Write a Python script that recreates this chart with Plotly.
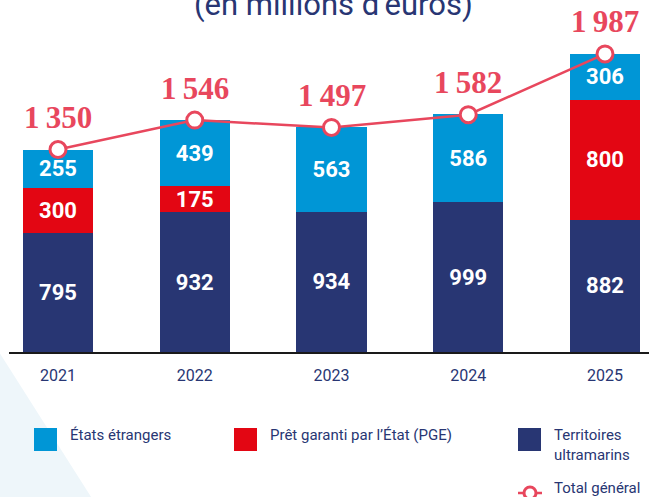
import plotly.graph_objects as go

years = ["2021", "2022", "2023", "2024", "2025"]
territoires = [795, 932, 934, 999, 882]
pge = [300, 175, None, None, 800]
etats = [255, 439, 563, 586, 306]
totaux = [1350, 1546, 1497, 1582, 1987]

NAVY = "#283673"
RED = "#e30613"
BLUE = "#0096d6"
PINK = "#e8475d"

W, H = 649, 497
L, R, T, B = 9, 0, 0, 145
PW, PH = W - L - R, H - T - B


def px_x(px):
    return (px - L) / PW


def px_y(py):
    return 1 - (py - T) / PH


xs = list(range(len(years)))
fig = go.Figure()

bar_common = dict(
    x=xs, width=0.512, texttemplate="%{y}", textposition="inside",
    insidetextanchor="middle", textangle=0, constraintext="none",
    textfont=dict(family="Roboto", size=22, color="white", weight="bold"),
    marker_line_width=0, showlegend=False,
)
fig.add_trace(go.Bar(y=territoires, name="Territoires ultramarins", marker_color=NAVY, **bar_common))
fig.add_trace(go.Bar(y=pge, name="Prêt garanti par l’État (PGE)", marker_color=RED, **bar_common))
fig.add_trace(go.Bar(y=etats, name="États étrangers", marker_color=BLUE, **bar_common))

fig.add_trace(go.Scatter(
    x=xs, y=totaux, mode="lines+markers", name="Total général",
    line=dict(color=PINK, width=2.5),
    marker=dict(size=16, color="white", line=dict(color=PINK, width=3)),
    cliponaxis=False, showlegend=False,
))

annotations = []
for i, v in enumerate(totaux):
    s = f"{v:,}".replace(",", "\u2009")
    annotations.append(dict(
        x=i, y=v, xref="x", yref="y", text=s, showarrow=False,
        yanchor="middle", yshift=32,
        font=dict(family="Liberation Serif", size=31, color=PINK, weight="bold"),
    ))

# title (partially cut at top)
annotations.append(dict(
    x=px_x(333), y=px_y(5), xref="paper", yref="paper",
    text="(en millions d’euros)", showarrow=False, yanchor="middle",
    font=dict(family="Roboto", size=31, color=NAVY),
))

legend_font = dict(family="Roboto", size=15, color=NAVY)
shapes = [
    dict(type="path", xref="paper", yref="paper", layer="below",
         path=f"M {px_x(-20)},{px_y(322)} L {px_x(93)},{px_y(500)} L {px_x(-20)},{px_y(500)} Z",
         fillcolor="#eef6fa", line=dict(width=0)),
]
for (x0, col, txt, ty) in [(34, BLUE, "États étrangers", 435),
                           (234, RED, "Prêt garanti par l’État (PGE)", 435),
                           (518, NAVY, "Territoires<br>ultramarins", 445)]:
    shapes.append(dict(type="rect", xref="paper", yref="paper",
                       x0=px_x(x0), x1=px_x(x0 + 23), y0=px_y(428), y1=px_y(451),
                       fillcolor=col, line=dict(width=0)))
    annotations.append(dict(x=px_x(x0 + 34), y=px_y(ty), xref="paper", yref="paper",
                            text=txt, showarrow=False, xanchor="left", yanchor="middle",
                            align="left", font=legend_font))

# Total général legend symbol
shapes.append(dict(type="line", xref="paper", yref="paper",
                   x0=px_x(518), x1=px_x(542), y0=px_y(493), y1=px_y(493),
                   line=dict(color=PINK, width=2.5)))
shapes.append(dict(type="circle", xref="paper", yref="paper",
                   x0=px_x(524), x1=px_x(536), y0=px_y(487), y1=px_y(499),
                   fillcolor="white", line=dict(color=PINK, width=3)))
annotations.append(dict(x=px_x(552), y=px_y(488), xref="paper", yref="paper",
                        text="Total général", showarrow=False, xanchor="left",
                        yanchor="middle", font=legend_font))

fig.update_layout(
    width=W, height=H, margin=dict(l=L, r=R, t=T, b=B, pad=0),
    barmode="stack", plot_bgcolor="white", paper_bgcolor="white",
    showlegend=False, annotations=annotations, shapes=shapes,
    xaxis=dict(range=[-49 / 136.75, (PW - 49) / 136.75], tickvals=xs, ticktext=years,
               showgrid=False, zeroline=False, showline=True, linecolor="#1a1a1a",
               linewidth=1.5, ticks="", ticklabelstandoff=8,
               tickfont=dict(family="Roboto", size=16, color=NAVY)),
    yaxis=dict(range=[0, PH / 0.15], visible=False, showgrid=False, zeroline=False),
)

fig.write_html(
    "out.html",
    config={"displayModeBar": False},
    post_script="document.body.style.margin='0';document.body.style.overflow='hidden';",
)
